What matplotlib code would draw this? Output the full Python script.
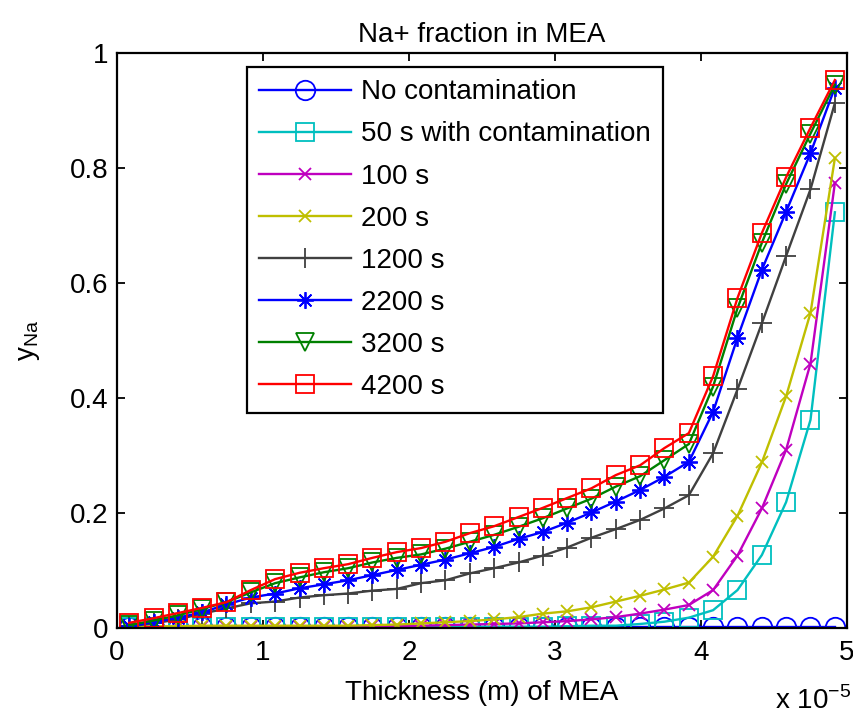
import matplotlib
matplotlib.use('Agg')
import matplotlib.pyplot as plt

plt.rcParams['font.family'] = ['Liberation Sans', 'DejaVu Sans']

# x positions in units of 1e-5 m
thickness = [0.083, 0.250, 0.417, 0.583, 0.750, 0.917, 1.083, 1.250, 1.417, 1.583,
             1.750, 1.917, 2.083, 2.250, 2.417, 2.583, 2.750, 2.917, 3.083, 3.250,
             3.417, 3.583, 3.750, 3.917, 4.083, 4.250, 4.417, 4.583, 4.750, 4.917]

no_contam = [0.002, 0.002, 0.002, 0.002, 0.002, 0.002, 0.002, 0.002, 0.002, 0.002,
             0.002, 0.002, 0.002, 0.002, 0.002, 0.002, 0.002, 0.002, 0.002, 0.002,
             0.002, 0.002, 0.002, 0.002, 0.002, 0.002, 0.002, 0.002, 0.002, 0.002]
s50 = [0.001, 0.001, 0.001, 0.001, 0.001, 0.001, 0.001, 0.001, 0.001, 0.001,
       0.001, 0.001, 0.001, 0.002, 0.002, 0.002, 0.002, 0.002, 0.003, 0.004,
       0.004, 0.007, 0.011, 0.018, 0.031, 0.066, 0.127, 0.219, 0.362, 0.723]
s100 = [0.001, 0.001, 0.001, 0.001, 0.001, 0.001, 0.001, 0.002, 0.002, 0.002,
        0.003, 0.003, 0.004, 0.005, 0.006, 0.007, 0.008, 0.010, 0.012, 0.015,
        0.019, 0.025, 0.032, 0.040, 0.066, 0.126, 0.208, 0.310, 0.460, 0.774]
s200 = [0.002, 0.003, 0.003, 0.004, 0.004, 0.004, 0.004, 0.004, 0.004, 0.004,
        0.005, 0.006, 0.008, 0.010, 0.012, 0.015, 0.019, 0.025, 0.029, 0.036,
        0.046, 0.056, 0.067, 0.079, 0.124, 0.195, 0.288, 0.403, 0.548, 0.817]
s1200 = [0.003, 0.008, 0.015, 0.025, 0.034, 0.043, 0.046, 0.053, 0.057, 0.060,
         0.065, 0.068, 0.078, 0.083, 0.095, 0.104, 0.114, 0.126, 0.140, 0.157,
         0.172, 0.188, 0.208, 0.231, 0.304, 0.415, 0.530, 0.647, 0.763, 0.913]
s2200 = [0.003, 0.010, 0.018, 0.027, 0.041, 0.053, 0.060, 0.069, 0.076, 0.083,
         0.092, 0.101, 0.110, 0.119, 0.130, 0.141, 0.155, 0.167, 0.183, 0.201,
         0.220, 0.240, 0.263, 0.289, 0.376, 0.505, 0.623, 0.724, 0.826, 0.940]
s3200 = [0.005, 0.013, 0.022, 0.033, 0.045, 0.062, 0.078, 0.088, 0.097, 0.104,
         0.114, 0.122, 0.128, 0.138, 0.150, 0.162, 0.176, 0.191, 0.208, 0.225,
         0.246, 0.264, 0.292, 0.320, 0.420, 0.556, 0.670, 0.772, 0.860, 0.945]
s4200 = [0.009, 0.017, 0.026, 0.035, 0.045, 0.066, 0.085, 0.096, 0.104, 0.111,
         0.122, 0.132, 0.139, 0.150, 0.165, 0.177, 0.193, 0.209, 0.226, 0.243,
         0.266, 0.283, 0.313, 0.339, 0.438, 0.574, 0.687, 0.784, 0.870, 0.953]

labels = ['No contamination', '50 s with contamination', '100 s', '200 s',
          '1200 s', '2200 s', '3200 s', '4200 s']
series = [no_contam, s50, s100, s200, s1200, s2200, s3200, s4200]
colors = ['#0000FF', '#00BFBF', '#BF00BF', '#BFBF00', '#404040', '#0000FF', '#008000', '#FF0000']
markers = ['o', 's', 'x', 'x', '+', (8, 2, 0), 'v', 's']
msizes = [14, 13, 9, 9, 14, 12, 13, 13]

xticks = [0, 1, 2, 3, 4, 5]
xticklabels = ['0', '1', '2', '3', '4', '5']
yticks = [0, 0.2, 0.4, 0.6, 0.8, 1.0]
yticklabels = ['0', '0.2', '0.4', '0.6', '0.8', '1']

fig = plt.figure(figsize=(8.54, 7.18), dpi=100)
ax = fig.add_axes([117 / 854, 1 - 628 / 718, 730 / 854, 575 / 718])

for vals, lab, c, m, ms in zip(series, labels, colors, markers, msizes):
    ax.plot(thickness, vals, color=c, marker=m, markersize=ms, markerfacecolor='none',
            markeredgecolor=c, markeredgewidth=1.3, linewidth=1.7, label=lab)

ax.set_xlim(0, 5)
ax.set_ylim(0, 1)
ax.set_xticks(xticks)
ax.set_xticklabels(xticklabels)
ax.set_yticks(yticks)
ax.set_yticklabels(yticklabels)
ax.tick_params(direction='in', top=True, right=True, length=6, width=1.3,
               labelsize=20, pad=6)
ax.tick_params(axis='x', pad=9)
for sp in ax.spines.values():
    sp.set_linewidth(1.6)

ax.set_title('Na+ fraction in MEA', fontsize=20, pad=8)
ax.set_xlabel('Thickness (m) of MEA', fontsize=20, labelpad=10)
ax.set_ylabel(r'$\mathregular{y_{Na}}$', fontsize=20, labelpad=20)
fig.text(775 / 854, 1 - 709 / 718, r'x 10$^{\mathregular{-5}}$', fontsize=20,
         ha='left', va='baseline')

leg = ax.legend(loc='upper left', bbox_to_anchor=(0.178, 0.976), borderaxespad=0,
                fontsize=20, numpoints=1, handlelength=3.3, handletextpad=0.35,
                labelspacing=0.58, borderpad=0.45, fancybox=False, framealpha=1,
                edgecolor='black')
leg.get_frame().set_linewidth(1.6)

fig.savefig('out.png', dpi=100)
